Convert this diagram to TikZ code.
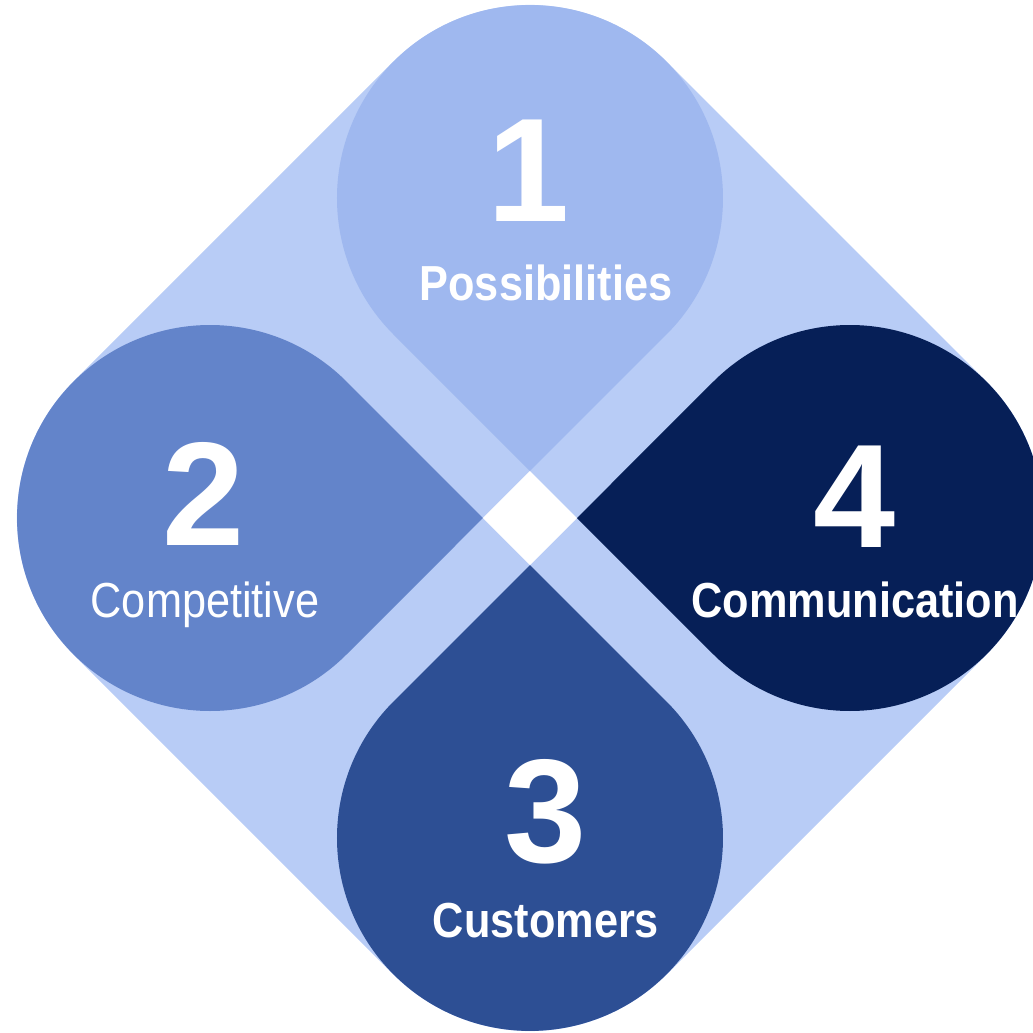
\documentclass[tikz,border=0pt]{standalone}
\usepackage{fontspec}
\newfontfamily\numfont{Liberation Sans}
\newfontfamily\lblfont[FakeStretch=0.88]{Liberation Sans}
\definecolor{bgblue}{RGB}{184,204,246}
\definecolor{dropA}{RGB}{159,184,239}
\definecolor{dropB}{RGB}{99,132,202}
\definecolor{dropC}{RGB}{45,79,148}
\definecolor{dropD}{RGB}{6,31,87}

\begin{document}
\begin{tikzpicture}[
  num/.style={text=white, inner sep=0pt, anchor=base, font=\numfont\fontsize{42}{42}\selectfont\bfseries},
  lbl/.style={text=white, inner sep=0pt, anchor=base, font=\lblfont\fontsize{14}{14}\selectfont\bfseries}]
\useasboundingbox (-5.30,-5.15) rectangle (5.03,5.18);
% background diamond
\fill[bgblue, rounded corners=1.93cm] (90:5.93) -- (180:5.93) -- (270:5.93) -- (0:5.93) -- cycle;
% tips of the drops
\foreach \a/\i in {90/1, 180/2, 270/3, 0/4}
  \coordinate (tip\i) at (\a:0.47);
\fill[white] (tip1) -- (tip2) -- (tip3) -- (tip4) -- cycle;
% drops
\foreach \a/\col in {90/dropA, 180/dropB, 270/dropC, 0/dropD}
  \fill[\col] (\a:0.47) -- ++({\a-45}:1.93) arc[start angle={\a-135}, end angle={\a+135}, radius=1.93] -- cycle;
% texts
\node[num] (n1) at (-0.01,2.97) {1};
\node[lbl] (l1) at (0.16,2.17) {Possibilities};
\node[num] (n2) at (-3.26,-0.27) {2};
\node[lbl, font=\lblfont\fontsize{14}{14}\selectfont] (l2) at (-3.25,-0.99) {Competitive};
\node[num] (n3) at (0.16,-3.44) {3};
\node[lbl] (l3) at (0.16,-4.19) {Customers};
\node[num] (n4) at (3.25,-0.29) {4};
\node[lbl] (l4) at (3.25,-0.99) {Communication};
\end{tikzpicture}
\end{document}
